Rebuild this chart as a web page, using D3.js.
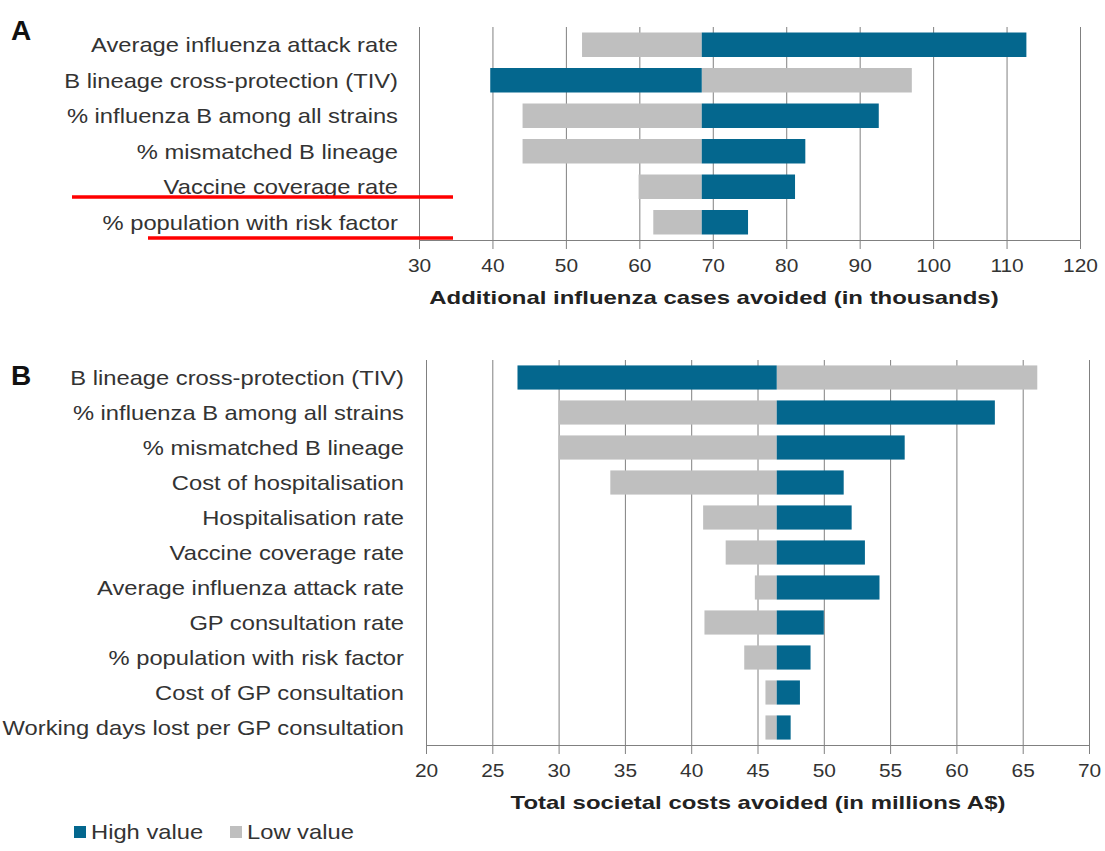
<!DOCTYPE html>
<html>
<head>
<meta charset="utf-8">
<script src="https://cdn.jsdelivr.net/npm/d3@7"></script>
<style>
  body { margin: 0; background: #fff; }
  svg { font-family: "Liberation Sans", Arial, sans-serif; }
  .lbl { fill: #333; font-size: 21px; }
  .tick text { fill: #333; font-size: 19px; }
  .ttl { fill: #222; font-size: 19px; font-weight: bold; }
</style>
</head>
<body>
<div id="vis"></div>
<script>
// panel A: additional influenza cases avoided (thousands)
var catsA = ["Average influenza attack rate", "B lineage cross-protection (TIV)",
  "% influenza B among all strains", "% mismatched B lineage",
  "Vaccine coverage rate", "% population with risk factor"];
var baseA = 68.5;
var highA = [112.7, 39.7, 92.6, 82.6, 81.2, 74.8];
var lowA  = [52.2, 97.1, 44.1, 44.1, 59.9, 61.9];
var ticksA = [30, 40, 50, 60, 70, 80, 90, 100, 110, 120];

// panel B: total societal costs avoided (millions A$)
var catsB = ["B lineage cross-protection (TIV)", "% influenza B among all strains",
  "% mismatched B lineage", "Cost of hospitalisation", "Hospitalisation rate",
  "Vaccine coverage rate", "Average influenza attack rate", "GP consultation rate",
  "% population with risk factor", "Cost of GP consultation",
  "Working days lost per GP consultation"];
var baseB = 46.45;
var highB = [26.9, 62.9, 56.1, 51.5, 52.1, 53.1, 54.2, 50.0, 49.0, 48.2, 47.5];
var lowB  = [66.1, 30.0, 30.0, 33.9, 40.9, 42.6, 44.8, 41.0, 44.0, 45.6, 45.6];
var ticksB = [20, 25, 30, 35, 40, 45, 50, 55, 60, 65, 70];

var blue = "#04678e", grey = "#bfbfbf", gridc = "#808080";

var svg = d3.select("#vis").append("svg")
  .attr("width", 1105)
  .attr("height", 851);

// the original type is set a little wide, so widen the glyphs to match
function stretch(sel, k) {
  sel.each(function() {
    var w = this.getComputedTextLength();
    d3.select(this).attr("textLength", w * k).attr("lengthAdjust", "spacingAndGlyphs");
  });
}

function panel(cfg) {
  var x = d3.scaleLinear().domain(cfg.domain).range(cfg.xr);
  var y = d3.scaleBand().domain(cfg.cats).range(cfg.yr)
    .paddingInner(0.31).paddingOuter(0.155);
  var g = svg.append("g");

  // grid lines
  g.append("g").selectAll("line")
    .data(cfg.ticks)
    .enter().append("line")
    .attr("x1", function(d) { return x(d) + 0.5; })
    .attr("x2", function(d) { return x(d) + 0.5; })
    .attr("y1", cfg.yr[0])
    .attr("y2", cfg.yr[1])
    .attr("stroke", gridc)
    .attr("stroke-width", 1);

  var rows = cfg.cats.map(function(c, i) {
    return {cat: c, high: cfg.high[i], low: cfg.low[i]};
  });

  // low value bars first, then high
  [["low", grey], ["high", blue]].forEach(function(s) {
    g.append("g").selectAll("rect")
      .data(rows)
      .enter().append("rect")
      .attr("x", function(d) { return x(Math.min(d[s[0]], cfg.base)); })
      .attr("width", function(d) { return Math.abs(x(d[s[0]]) - x(cfg.base)); })
      .attr("y", function(d) { return y(d.cat); })
      .attr("height", y.bandwidth())
      .attr("fill", s[1]);
  });

  // x axis
  var ax = g.append("g")
    .attr("transform", "translate(0," + cfg.yr[1] + ")")
    .call(d3.axisBottom(x).tickValues(cfg.ticks).tickSize(9).tickPadding(cfg.pad).tickSizeOuter(0));
  ax.select(".domain").attr("stroke", gridc);
  ax.selectAll(".tick line").attr("stroke", gridc);
  ax.selectAll(".tick text").attr("font-family", null).attr("font-size", null).call(stretch, 1.1);

  // category labels
  g.append("g").selectAll("text")
    .data(cfg.cats)
    .enter().append("text")
    .attr("class", "lbl")
    .attr("x", cfg.labelX)
    .attr("y", function(d) { return y(d) + y.bandwidth() / 2; })
    .attr("dy", "0.35em")
    .attr("text-anchor", "end")
    .text(function(d) { return d; })
    .call(stretch, 1.13);

  g.append("text")
    .attr("class", "ttl")
    .attr("x", cfg.titleX)
    .attr("y", cfg.yr[1] + 64)
    .attr("text-anchor", "middle")
    .text(cfg.title)
    .call(stretch, 1.26);

  g.append("text")
    .attr("x", 11)
    .attr("y", cfg.letterY)
    .attr("font-size", 28)
    .attr("font-weight", "bold")
    .attr("fill", "#111")
    .text(cfg.letter);
}

panel({cats: catsA, high: highA, low: lowA, base: baseA, ticks: ticksA,
  domain: [30, 120], xr: [419, 1080], yr: [27, 240], labelX: 398, pad: 10,
  title: "Additional influenza cases avoided (in thousands)", titleX: 714,
  letter: "A", letterY: 40});

panel({cats: catsB, high: highB, low: lowB, base: baseB, ticks: ticksB,
  domain: [20, 70], xr: [426, 1089], yr: [360, 745], labelX: 404, pad: 10,
  title: "Total societal costs avoided (in millions A$)", titleX: 758,
  letter: "B", letterY: 385});

// red underline marks drawn on the original figure
svg.append("g").selectAll("line")
  .data([[72, 453, 197], [148, 453, 238]])
  .enter().append("line")
  .attr("x1", function(d) { return d[0]; })
  .attr("x2", function(d) { return d[1]; })
  .attr("y1", function(d) { return d[2]; })
  .attr("y2", function(d) { return d[2]; })
  .attr("stroke", "#ff0000")
  .attr("stroke-width", 3.5);

// legend
var leg = svg.append("g").attr("transform", "translate(74,832)");
[["High value", blue, 0], ["Low value", grey, 156]].forEach(function(d) {
  leg.append("rect").attr("x", d[2]).attr("y", -6).attr("width", 12).attr("height", 12).attr("fill", d[1]);
  leg.append("text").attr("class", "lbl").attr("x", d[2] + 17).attr("y", 0)
    .attr("dy", "0.35em").text(d[0]).call(stretch, 1.13);
});
</script>
</body>
</html>
